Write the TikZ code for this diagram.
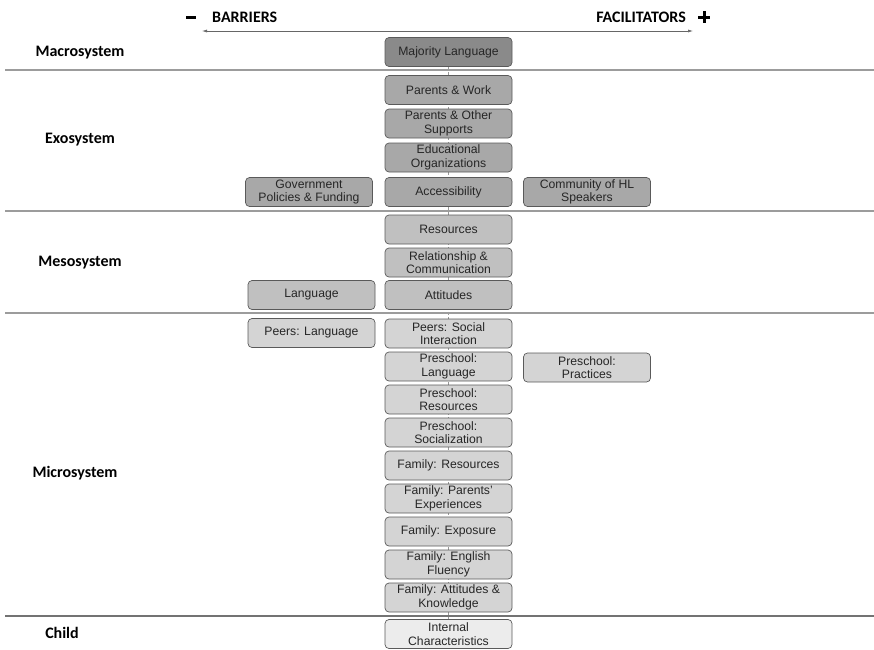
\documentclass[tikz,border=0pt]{standalone}
\usepackage{fontspec}
\setmainfont{Liberation Sans}
\newfontfamily\labfont{Carlito}
\usetikzlibrary{arrows.meta,backgrounds}
\definecolor{macroC}{HTML}{8A8A8A}
\definecolor{exoC}{HTML}{A8A8A8}
\definecolor{mesoC}{HTML}{C0C0C0}
\definecolor{microC}{HTML}{D4D4D4}
\definecolor{childC}{HTML}{ECECEC}
\definecolor{borderC}{HTML}{5A5A5A}
\definecolor{sepC}{HTML}{9C9C9C}
\begin{document}
\begin{tikzpicture}[x=1pt,y=-1pt,
  box/.style={draw=borderC, line width=0.7pt, rounded corners=4pt, minimum width=127pt, minimum height=29pt, inner sep=0.5pt, align=center, font=\fontsize{12.2}{13.6}\selectfont, text=black!85},
  macrobox/.style={box, fill=macroC},
  exobox/.style={box, fill=exoC},
  mesobox/.style={box, fill=mesoC},
  microbox/.style={box, fill=microC},
  childbox/.style={box, fill=childC},
  syslabel/.style={font=\labfont\bfseries\fontsize{16}{17}\selectfont, inner sep=0pt},
  sepline/.style={draw=sepC, line width=1.4pt},
  conn/.style={draw=black!40, line width=0.4pt, densely dashed}]
\useasboundingbox (0,0) rectangle (874,649);

% header
\fill[black] (186,15.5) rectangle (196,18.5);
\node[syslabel, anchor=west] (barriers) at (212,17) {BARRIERS};
\node[syslabel, anchor=east] (facil) at (686,17) {FACILITATORS};
\fill[black] (698,15.5) rectangle (710,18.5);
\fill[black] (702.5,11) rectangle (705.5,23);
\coordinate (aL) at (202,31);
\coordinate (aR) at (693,31);
\draw[black!60, line width=0.6pt, {Latex[length=5pt,width=3pt]}-{Latex[length=5pt,width=3pt]}] (aL) -- (aR);

% separators
\coordinate (s1a) at (5,70);  \coordinate (s1b) at (874,70);
\coordinate (s2a) at (5,211); \coordinate (s2b) at (874,211);
\coordinate (s3a) at (5,313); \coordinate (s3b) at (874,313);
\coordinate (s4a) at (5,616); \coordinate (s4b) at (874,616);
\draw[sepline] (s1a) -- (s1b);
\draw[sepline] (s2a) -- (s2b);
\draw[sepline] (s3a) -- (s3b);
\draw[sepline, draw=black!55] (s4a) -- (s4b);

% system labels
\node[syslabel] (lmacro) at (80,53) {Macrosystem};
\node[syslabel] (lexo) at (80,140) {Exosystem};
\node[syslabel] (lmeso) at (80,263) {Mesosystem};
\node[syslabel] (lmicro) at (75,473) {Microsystem};
\node[syslabel] (lchild) at (62,633) {Child};

% central column
\node[macrobox] (maj) at (448.5,52) {Majority Language};
\node[exobox] (pw) at (448.5,90) {Parents \& Work};
\node[exobox] (pos) at (448.5,123.5) {Parents \& Other\\Supports};
\node[exobox] (edu) at (448.5,157.5) {Educational\\Organizations};
\node[exobox] (acc) at (448.5,192) {Accessibility};
\node[exobox] (gov) at (309,192) {Government\\Policies \& Funding};
\node[exobox] (comm) at (587,192) {Community of HL\\Speakers};

\node[mesobox] (res) at (448.5,229.5) {Resources};
\node[mesobox] (rel) at (448.5,262.5) {Relationship \&\\Communication};
\node[mesobox] (att) at (448.5,295) {Attitudes};
\node[mesobox] (lang) at (311.5,295) {Language};

\node[microbox] (psi) at (448.5,333.5) {Peers: Social\\Interaction};
\node[microbox] (pl) at (311.5,333) {Peers: Language};
\node[microbox] (prl) at (448.5,366.5) {Preschool:\\Language};
\node[microbox] (prp) at (587,367.5) {Preschool:\\Practices};
\node[microbox] (prr) at (448.5,399.5) {Preschool:\\Resources};
\node[microbox] (prs) at (448.5,432.5) {Preschool:\\Socialization};
\node[microbox] (fr) at (448.5,465.5) {Family: Resources};
\node[microbox] (fpe) at (448.5,498.5) {Family: Parents'\\Experiences};
\node[microbox] (fe) at (448.5,531.5) {Family: Exposure};
\node[microbox] (fef) at (448.5,564.5) {Family: English\\Fluency};
\node[microbox] (fak) at (448.5,597.5) {Family: Attitudes \&\\Knowledge};

\node[childbox] (ic) at (448.5,634) {Internal\\Characteristics};

\begin{scope}[on background layer]
\draw[conn] (maj) -- (ic);
\end{scope}
\end{tikzpicture}
\end{document}
